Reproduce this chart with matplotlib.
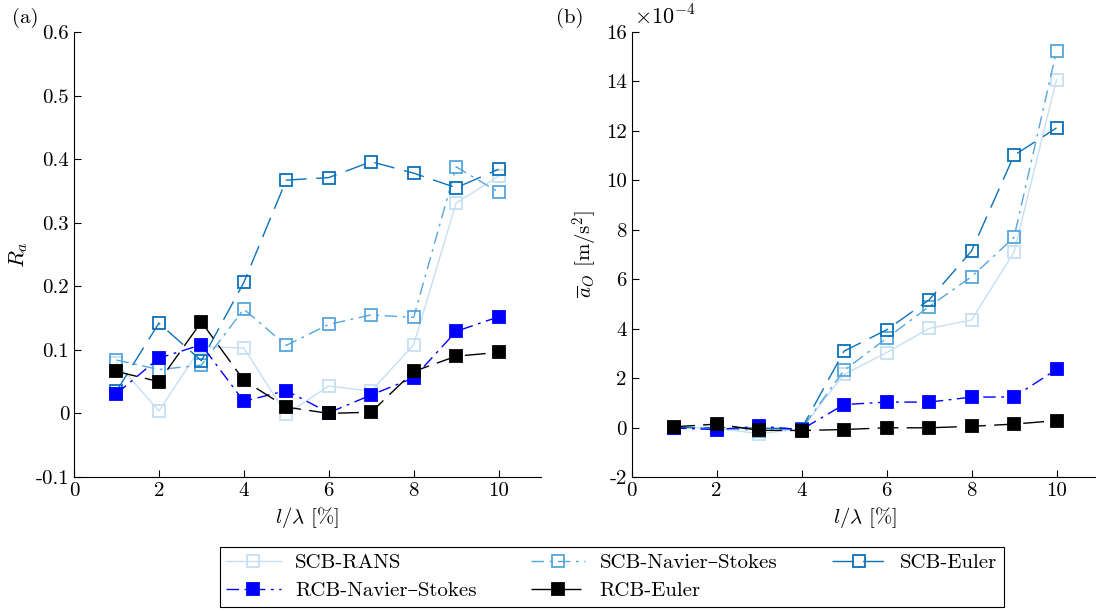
import matplotlib
matplotlib.use('Agg')
import matplotlib.pyplot as plt
from matplotlib.ticker import FuncFormatter

# data
x = [1, 2, 3, 4, 5, 6, 7, 8, 9, 10]

# (a) R_a
ra_scb_rans = [0.080, 0.004, 0.105, 0.103, -0.001, 0.043, 0.035, 0.108, 0.331, 0.373]
ra_scb_ns = [0.084, 0.069, 0.076, 0.164, 0.107, 0.140, 0.155, 0.151, 0.388, 0.348]
ra_scb_euler = [0.035, 0.142, 0.083, 0.206, 0.367, 0.371, 0.396, 0.378, 0.355, 0.384]
ra_rcb_ns = [0.031, 0.087, 0.108, 0.019, 0.036, 0.001, 0.029, 0.056, 0.129, 0.152]
ra_rcb_euler = [0.066, 0.050, 0.144, 0.052, 0.010, 0.000, 0.002, 0.066, 0.090, 0.096]

# (b) mean acceleration, in units of 1e-4 m/s^2
ao_scb_rans = [0.0, -0.02, -0.25, -0.05, 2.15, 3.03, 4.01, 4.35, 7.09, 14.07]
ao_scb_ns = [0.0, -0.02, -0.12, -0.05, 2.31, 3.61, 4.89, 6.10, 7.69, 15.23]
ao_scb_euler = [0.0, 0.0, -0.02, -0.05, 3.09, 3.95, 5.16, 7.14, 11.01, 12.12]
ao_rcb_ns = [-0.02, -0.08, 0.05, -0.08, 0.93, 1.03, 1.03, 1.23, 1.24, 2.35]
ao_rcb_euler = [0.03, 0.14, -0.11, -0.12, -0.08, -0.01, -0.01, 0.05, 0.14, 0.28]

labels = ['SCB-RANS', 'SCB-Navier\u2013Stokes', 'SCB-Euler',
          'RCB-Navier\u2013Stokes', 'RCB-Euler']

# computer modern look, DejaVu Serif as fallback for the en dash
plt.rcParams['font.family'] = ['cmr10', 'DejaVu Serif']
plt.rcParams['mathtext.fontset'] = 'cm'
plt.rcParams['axes.unicode_minus'] = False
plt.rcParams['lines.scale_dashes'] = False
plt.rcParams['font.size'] = 15

styles = [
    dict(color='#c6dff2', ls='-', mfc='none', mec='#c6dff2'),
    dict(color='#55a6dc', dashes=(9, 4, 2, 4), mfc='none', mec='#55a6dc'),
    dict(color='#0a72ba', dashes=(15, 7), mfc='none', mec='#0a72ba'),
    dict(color='#0000ff', dashes=(9, 4, 2, 4), mfc='#0000ff', mec='#0000ff'),
    dict(color='black', dashes=(15, 6), mfc='black', mec='black'),
]

fig = plt.figure(figsize=(10.96, 6.11), dpi=100)
ax1 = fig.add_axes([74 / 1096, 1 - 477 / 611, 467 / 1096, 445 / 611])
ax2 = fig.add_axes([631.5 / 1096, 1 - 477 / 611, 467.5 / 1096, 445 / 611])

handles = []
for ys, st in zip([ra_scb_rans, ra_scb_ns, ra_scb_euler, ra_rcb_ns, ra_rcb_euler], styles):
    h, = ax1.plot(x, ys, marker='s', ms=9, lw=1.0, mew=1.3, **st)
    handles.append(h)
for ys, st in zip([ao_scb_rans, ao_scb_ns, ao_scb_euler, ao_rcb_ns, ao_rcb_euler], styles):
    ax2.plot(x, ys, marker='s', ms=9, lw=1.0, mew=1.3, **st)

fmt = FuncFormatter(lambda v, p: '{:g}'.format(round(v, 6)))
for ax in (ax1, ax2):
    ax.set_xlim(0, 11)
    ax.set_xticks([0, 2, 4, 6, 8, 10])
    ax.spines['top'].set_visible(False)
    ax.spines['right'].set_visible(False)
    ax.tick_params(direction='in', length=5, width=0.8, labelsize=15)
    ax.set_xlabel(r'$l/\lambda$ [%]', fontsize=15)
    ax.yaxis.set_major_formatter(fmt)
    ax.xaxis.set_major_formatter(fmt)

ax1.set_ylim(-0.1, 0.6)
ax1.set_yticks([-0.1, 0, 0.1, 0.2, 0.3, 0.4, 0.5, 0.6])
ax1.set_ylabel(r'$R_a$', fontsize=16)

ax2.set_ylim(-2, 16)
ax2.set_yticks(range(-2, 17, 2))
ax2.set_ylabel(r'$\overline{a}_O$ [m/s$^2$]', fontsize=15)
fig.text(634 / 1096, 1 - 16 / 611, r'$\times10^{-4}$', fontsize=16, va='center')

fig.text(12 / 1096, 1 - 18 / 611, '(a)', fontsize=15, va='center')
fig.text(556 / 1096, 1 - 18 / 611, '(b)', fontsize=15, va='center')

order = [0, 3, 1, 4, 2]
leg = fig.legend([handles[i] for i in order], [labels[i] for i in order],
                 loc='center', bbox_to_anchor=(612 / 1096, 1 - 577 / 611),
                 ncol=3, fontsize=15, handlelength=2.6, handletextpad=0.7,
                 columnspacing=2.6, labelspacing=0.45, borderpad=0.3,
                 borderaxespad=0, fancybox=False, framealpha=1)
leg.get_frame().set_edgecolor('black')
leg.get_frame().set_linewidth(0.8)

fig.savefig('out.png', dpi=100)
